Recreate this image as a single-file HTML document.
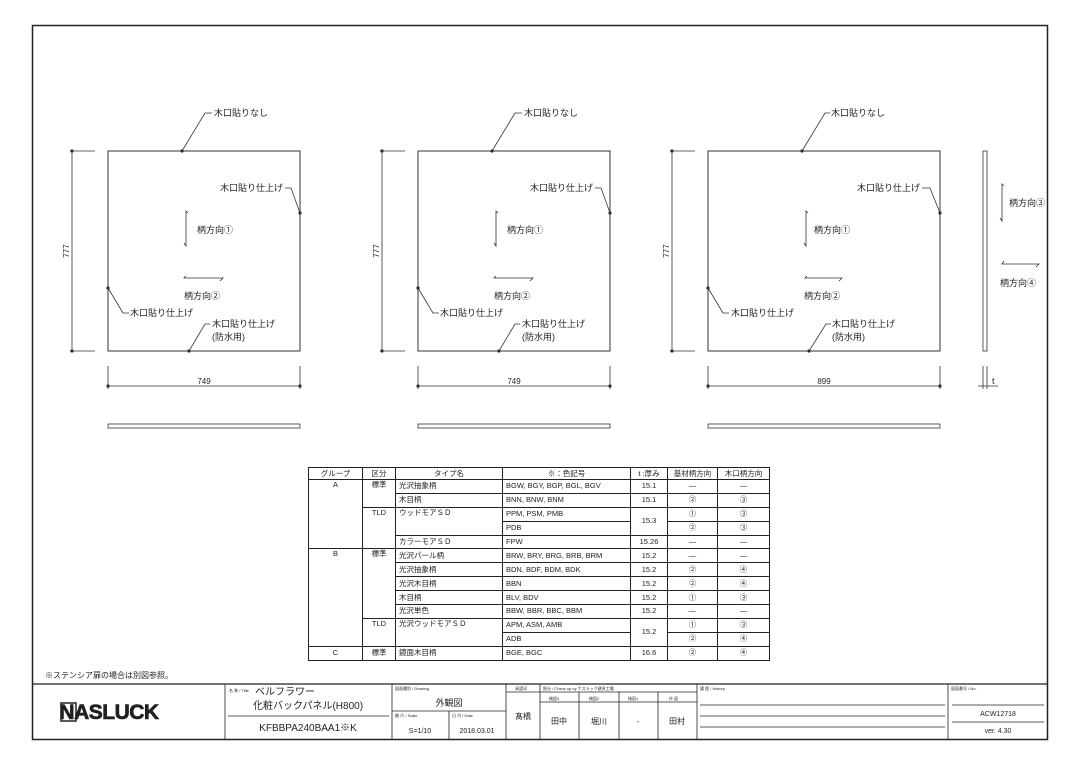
<!DOCTYPE html>
<html><head><meta charset="utf-8"><style>
html,body{margin:0;padding:0;background:#fff;}
svg{display:block;font-family:"Liberation Sans","Noto Sans CJK JP",sans-serif;}
text{fill:#222;}
</style></head><body>
<svg width="1080" height="764" viewBox="0 0 1080 764" xmlns="http://www.w3.org/2000/svg">
<rect x="32.5" y="25.5" width="1015" height="714" fill="none" stroke="#222" stroke-width="1.5"/>
<defs>
<g id="p1" stroke="#333" fill="none" stroke-width="0.8">
  <rect x="108" y="151" width="192" height="200" stroke-width="1"/>
  <line x1="72" y1="151" x2="72" y2="351"/>
  <line x1="70" y1="151" x2="95" y2="151"/><line x1="70" y1="351" x2="95" y2="351"/>
  <line x1="108" y1="366" x2="108" y2="389"/><line x1="300" y1="366" x2="300" y2="389"/>
  <line x1="108" y1="386" x2="300" y2="386"/>
  <rect x="108" y="424" width="192" height="4"/>
  <polyline points="182,151 205,113 212,113"/>
  <polyline points="285,188 291,188 300,213"/>
  <polyline points="108,288 123,313 129,313"/>
  <polyline points="189,351 205,324 210,324"/>
  <polyline points="188,213 186,211 186,246 184,243"/>
  <polyline points="186,276 184,278 223,278 220,281"/>
  <circle cx="182" cy="151" r="1.2" fill="#222"/><circle cx="300" cy="213" r="1.2" fill="#222"/>
  <circle cx="108" cy="288" r="1.2" fill="#222"/><circle cx="189" cy="351" r="1.2" fill="#222"/>
  <circle cx="72" cy="151" r="1.2" fill="#222"/><circle cx="72" cy="351" r="1.2" fill="#222"/>
  <circle cx="108" cy="386" r="1.2" fill="#222"/><circle cx="300" cy="386" r="1.2" fill="#222"/>
</g>
<g id="t1" font-size="9">
  <text x="214" y="116">木口貼りなし</text>
  <text x="283" y="191" text-anchor="end">木口貼り仕上げ</text>
  <text x="130" y="316">木口貼り仕上げ</text>
  <text x="212" y="327">木口貼り仕上げ</text>
  <text x="212" y="340">(防水用)</text>
  <text x="197" y="233">柄方向①</text>
  <text x="184" y="299">柄方向②</text>
  <text x="69" y="251" text-anchor="middle" transform="rotate(-90 69 251)" font-size="8">777</text>
  <text x="204" y="384" text-anchor="middle" font-size="8">749</text>
</g>
</defs>
<use href="#p1"/><use href="#t1"/>
<use href="#p1" transform="translate(310 0)"/><use href="#t1" transform="translate(310 0)"/>
<g stroke="#333" fill="none" stroke-width="0.8">
  <rect x="708" y="151" width="232" height="200" stroke-width="1"/>
  <line x1="672" y1="151" x2="672" y2="351"/>
  <line x1="670" y1="151" x2="695" y2="151"/><line x1="670" y1="351" x2="695" y2="351"/>
  <line x1="708" y1="366" x2="708" y2="389"/><line x1="940" y1="366" x2="940" y2="389"/>
  <line x1="708" y1="386" x2="940" y2="386"/>
  <rect x="708" y="424" width="232" height="4"/>
  <polyline points="802,151 825,113 830,113"/>
  <polyline points="922,188 930,188 940,213"/>
  <polyline points="708,288 723,313 729,313"/>
  <polyline points="809,351 826,324 831,324"/>
  <polyline points="808,213 806,211 806,246 804,243"/>
  <polyline points="807,276 805,278 842,278 839,281"/>
  <circle cx="802" cy="151" r="1.2" fill="#222"/><circle cx="940" cy="213" r="1.2" fill="#222"/>
  <circle cx="708" cy="288" r="1.2" fill="#222"/><circle cx="809" cy="351" r="1.2" fill="#222"/>
  <circle cx="672" cy="151" r="1.2" fill="#222"/><circle cx="672" cy="351" r="1.2" fill="#222"/>
  <circle cx="708" cy="386" r="1.2" fill="#222"/><circle cx="940" cy="386" r="1.2" fill="#222"/>
  <rect x="983" y="151" width="4" height="200"/>
  <line x1="983" y1="366" x2="983" y2="389"/><line x1="987" y1="366" x2="987" y2="389"/>
  <line x1="978" y1="386" x2="998" y2="386"/>
  <polyline points="1004,186 1002,184 1002,221 1000,218"/>
  <polyline points="1004,261 1002,264 1039,264 1036,267"/>
</g>
<g font-size="9">
  <text x="831" y="116">木口貼りなし</text>
  <text x="920" y="191" text-anchor="end">木口貼り仕上げ</text>
  <text x="731" y="316">木口貼り仕上げ</text>
  <text x="832" y="327">木口貼り仕上げ</text>
  <text x="832" y="340">(防水用)</text>
  <text x="814" y="233">柄方向①</text>
  <text x="804" y="299">柄方向②</text>
  <text x="669" y="251" text-anchor="middle" transform="rotate(-90 669 251)" font-size="8">777</text>
  <text x="824" y="384" text-anchor="middle" font-size="8">899</text>
  <text x="1009" y="206">柄方向③</text>
  <text x="1000" y="286">柄方向④</text>
  <text x="992" y="384">t</text>
  <text x="45" y="678" font-size="8">※ステンシア扉の場合は別図参照。</text>
</g>
<g stroke="#222" fill="none" stroke-width="0.8">
  <line x1="32" y1="684" x2="1048" y2="684" stroke-width="1.2"/>
  <line x1="225" y1="684" x2="225" y2="739"/>
  <line x1="392" y1="684" x2="392" y2="739"/>
  <line x1="506" y1="684" x2="506" y2="739"/>
  <line x1="540" y1="684" x2="540" y2="739"/>
  <line x1="697" y1="684" x2="697" y2="739"/>
  <line x1="948" y1="684" x2="948" y2="739"/>
  <line x1="228" y1="716" x2="389" y2="716"/>
  <line x1="392" y1="711" x2="506" y2="711"/>
  <line x1="449" y1="711" x2="449" y2="739"/>
  <line x1="506" y1="692" x2="697" y2="692"/>
  <line x1="540" y1="702" x2="697" y2="702"/>
  <line x1="579" y1="692" x2="579" y2="739"/>
  <line x1="619" y1="692" x2="619" y2="739"/>
  <line x1="658" y1="692" x2="658" y2="739"/>
  <line x1="700" y1="705" x2="945" y2="705"/>
  <line x1="700" y1="716" x2="945" y2="716"/>
  <line x1="700" y1="727" x2="945" y2="727"/>
  <line x1="952" y1="705" x2="1044" y2="705"/>
  <line x1="952" y1="722" x2="1044" y2="722"/>
  <rect x="61" y="703" width="15" height="18" stroke-width="1.5"/>
</g>
<g font-size="4" fill="#444">
  <text x="229" y="692">名 称 / Title</text>
  <text x="395" y="690">図面種別 / Drawing</text>
  <text x="395" y="717">縮 尺 / Scale</text>
  <text x="452" y="717">日 付 / Date</text>
  <text x="515" y="690">承認印</text>
  <text x="543" y="690">照合 / Check up by ナスラック建具工場</text>
  <text x="549" y="700">検図3</text><text x="589" y="700">検図2</text><text x="628" y="700">検図1</text><text x="669" y="700">作 図</text>
  <text x="700" y="690">履 歴 / History</text>
  <text x="951" y="690">図面番号 / No.</text>
</g>
<g font-size="9">
  <text x="109" y="719" text-anchor="middle" font-size="21" font-weight="bold" font-family="Liberation Sans, sans-serif" style="letter-spacing:-0.5px" stroke="#111" stroke-width="0.6">NASLUCK</text>
  <text x="255" y="695" font-size="10">ベルフラワー</text>
  <text x="308" y="709" text-anchor="middle" font-size="10">化粧バックパネル(H800)</text>
  <text x="308" y="731" text-anchor="middle" font-size="10">KFBBPA240BAA1※K</text>
  <text x="449" y="706" text-anchor="middle">外観図</text>
  <text x="420" y="733" text-anchor="middle" font-size="7">S=1/10</text>
  <text x="477" y="733" text-anchor="middle" font-size="7">2018.03.01</text>
  <text x="523" y="719" text-anchor="middle" font-size="8">髙橋</text>
  <text x="559" y="724" text-anchor="middle" font-size="8">田中</text>
  <text x="599" y="724" text-anchor="middle" font-size="8">堀川</text>
  <text x="638" y="724" text-anchor="middle" font-size="8">-</text>
  <text x="677" y="724" text-anchor="middle" font-size="8">田村</text>
  <text x="998" y="716" text-anchor="middle" font-size="7">ACW12718</text>
  <text x="998" y="733" text-anchor="middle" font-size="7">ver. 4.30</text>
</g>
<foreignObject x="308" y="467" width="466" height="196">
<div xmlns="http://www.w3.org/1999/xhtml">
<style>
table{border-collapse:collapse;font-family:"Liberation Sans","Noto Sans CJK JP",sans-serif;font-size:7.5px;width:461px;table-layout:fixed;color:#222;}
td{border:0.8px solid #222;padding:0 3px;height:12.9px;line-height:10px;white-space:nowrap;overflow:hidden;}
.c{text-align:center;} td.h{height:11px;text-align:center;}
</style>
<table style="border:1.2px solid #222">
<colgroup><col style="width:54px"/><col style="width:33px"/><col style="width:107px"/><col style="width:128px"/><col style="width:37px"/><col style="width:50px"/><col style="width:52px"/></colgroup>
<tr><td class="h">グループ</td><td class="h">区分</td><td class="h">タイプ名</td><td class="h">※：色記号</td><td class="h">t :厚み</td><td class="h">基材柄方向</td><td class="h">木口柄方向</td></tr>
<tr><td class="c" rowspan="5" style="vertical-align:top">A</td><td class="c" rowspan="2" style="vertical-align:top">標準</td><td>光沢抽象柄</td><td>BGW, BGY, BGP, BGL, BGV</td><td class="c">15.1</td><td class="c">—</td><td class="c">—</td></tr>
<tr><td>木目柄</td><td>BNN, BNW, BNM</td><td class="c">15.1</td><td class="c">②</td><td class="c">③</td></tr>
<tr><td class="c" rowspan="3" style="vertical-align:top">TLD</td><td rowspan="2" style="vertical-align:top">ウッドモアＳＤ</td><td>PPM, PSM, PMB</td><td class="c" rowspan="2">15.3</td><td class="c">①</td><td class="c">③</td></tr>
<tr><td>PDB</td><td class="c">②</td><td class="c">③</td></tr>
<tr><td>カラーモアＳＤ</td><td>FPW</td><td class="c">15.26</td><td class="c">—</td><td class="c">—</td></tr>
<tr><td class="c" rowspan="7" style="vertical-align:top">B</td><td class="c" rowspan="5" style="vertical-align:top">標準</td><td>光沢パール柄</td><td>BRW, BRY, BRG, BRB, BRM</td><td class="c">15.2</td><td class="c">—</td><td class="c">—</td></tr>
<tr><td>光沢抽象柄</td><td>BDN, BDF, BDM, BDK</td><td class="c">15.2</td><td class="c">②</td><td class="c">④</td></tr>
<tr><td>光沢木目柄</td><td>BBN</td><td class="c">15.2</td><td class="c">②</td><td class="c">④</td></tr>
<tr><td>木目柄</td><td>BLV, BDV</td><td class="c">15.2</td><td class="c">①</td><td class="c">③</td></tr>
<tr><td>光沢単色</td><td>BBW, BBR, BBC, BBM</td><td class="c">15.2</td><td class="c">—</td><td class="c">—</td></tr>
<tr><td class="c" rowspan="2" style="vertical-align:top">TLD</td><td rowspan="2" style="vertical-align:top">光沢ウッドモアＳＤ</td><td>APM, ASM, AMB</td><td class="c" rowspan="2">15.2</td><td class="c">①</td><td class="c">③</td></tr>
<tr><td>ADB</td><td class="c">②</td><td class="c">④</td></tr>
<tr><td class="c">C</td><td class="c">標準</td><td>鏡面木目柄</td><td>BGE, BGC</td><td class="c">16.6</td><td class="c">②</td><td class="c">④</td></tr>
</table>
</div>
</foreignObject>
</svg>
</body></html>
